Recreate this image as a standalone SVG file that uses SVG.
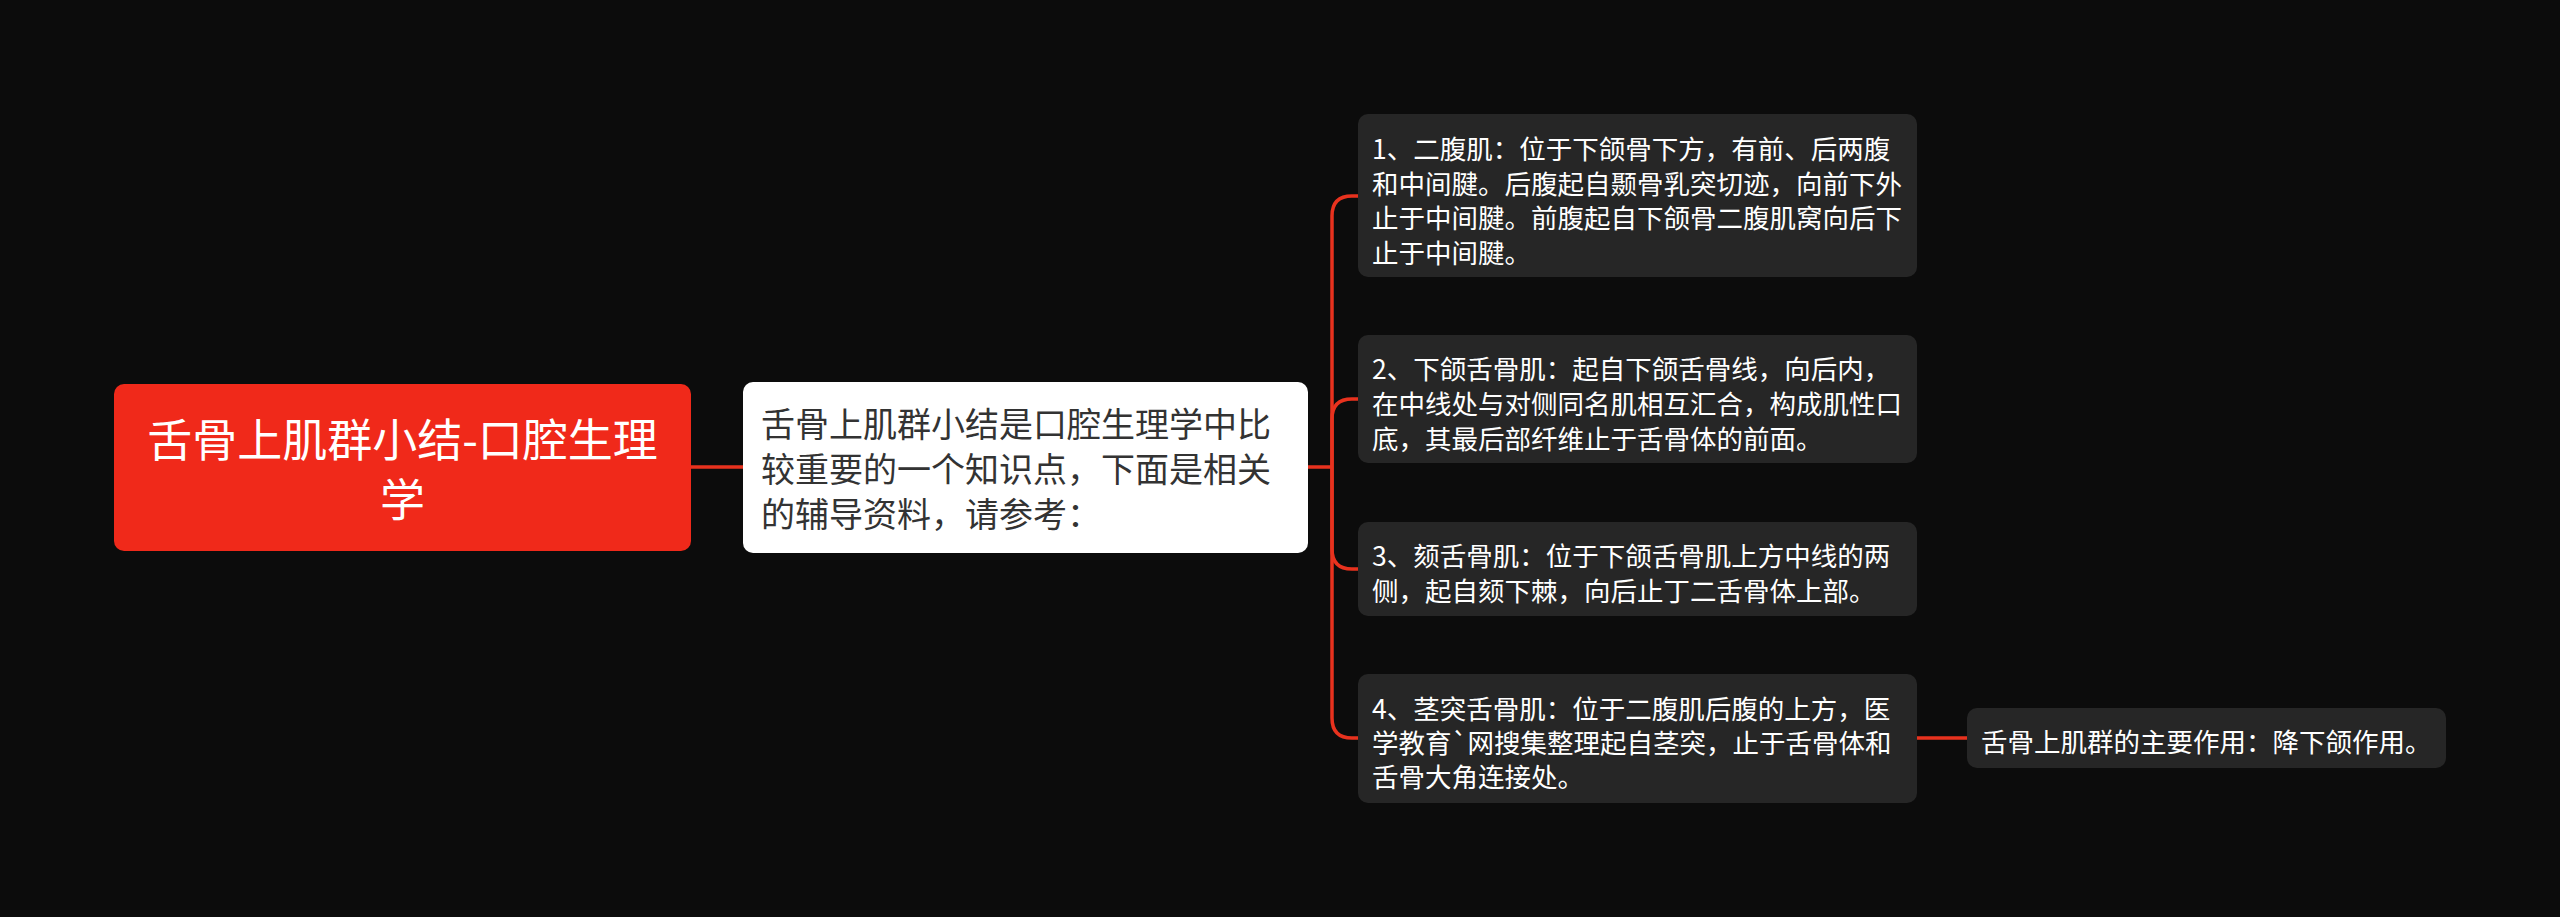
<svg xmlns="http://www.w3.org/2000/svg" width="2560" height="917" viewBox="0 0 2560 917">
<style>
text{font-family:"Noto Sans CJK SC","Noto Sans",sans-serif;dominant-baseline:central}
.rt{fill:#ffffff;font-size:45px;text-anchor:middle}
.mt{fill:#333333;font-size:34px}
.nt{fill:#ffffff;font-size:26.5px}
.card{fill:#262626}
.ln{fill:none;stroke:#e8321e;stroke-width:3.5}
</style>
<rect width="2560" height="917" fill="#0c0c0c"/>
<g id="connectors">
<path class="ln" d="M691,467 H743"/>
<path class="ln" d="M1308,467 H1332"/>
<path class="ln" d="M1332,467 V216 Q1332,196 1352,196 H1358"/>
<path class="ln" d="M1332,467 V419 Q1332,399 1352,399 H1358"/>
<path class="ln" d="M1332,467 V549 Q1332,569 1352,569 H1358"/>
<path class="ln" d="M1332,467 V718 Q1332,738 1352,738 H1358"/>
<path class="ln" d="M1917,738 H1967"/>
</g>
<g id="root">
<rect x="114" y="384" width="577" height="167" rx="10" fill="#f0291a"/>
<text class="rt"><tspan x="402.5" y="437">舌骨上肌群小结-口腔生理</tspan><tspan x="402.5" y="497">学</tspan></text>
</g>
<g id="mid">
<rect x="743" y="382" width="565" height="171" rx="10" fill="#ffffff"/>
<text class="mt"><tspan x="761" y="422">舌骨上肌群小结是口腔生理学中比</tspan><tspan x="761" y="467">较重要的一个知识点，下面是相关</tspan><tspan x="761" y="512">的辅导资料，请参考：</tspan></text>
</g>
<g id="n1">
<rect class="card" x="1358" y="114" width="559" height="163" rx="10"/>
<text class="nt"><tspan x="1372" y="147">1、二腹肌：位于下颌骨下方，有前、后两腹</tspan><tspan x="1372" y="181.5">和中间腱。后腹起自颞骨乳突切迹，向前下外</tspan><tspan x="1372" y="216">止于中间腱。前腹起自下颌骨二腹肌窝向后下</tspan><tspan x="1372" y="250.5">止于中间腱。</tspan></text>
</g>
<g id="n2">
<rect class="card" x="1358" y="335" width="559" height="128" rx="10"/>
<text class="nt"><tspan x="1372" y="367">2、下颌舌骨肌：起自下颌舌骨线，向后内，</tspan><tspan x="1372" y="402">在中线处与对侧同名肌相互汇合，构成肌性口</tspan><tspan x="1372" y="437">底，其最后部纤维止于舌骨体的前面。</tspan></text>
</g>
<g id="n3">
<rect class="card" x="1358" y="522" width="559" height="94" rx="10"/>
<text class="nt"><tspan x="1372" y="554">3、颏舌骨肌：位于下颌舌骨肌上方中线的两</tspan><tspan x="1372" y="589">侧，起自颏下棘，向后止丁二舌骨体上部。</tspan></text>
</g>
<g id="n4">
<rect class="card" x="1358" y="674" width="559" height="129" rx="10"/>
<text class="nt"><tspan x="1372" y="707">4、茎突舌骨肌：位于二腹肌后腹的上方，医</tspan><tspan x="1372" y="741">学教育`网搜集整理起自茎突，止于舌骨体和</tspan><tspan x="1372" y="775">舌骨大角连接处。</tspan></text>
</g>
<g id="leaf">
<rect class="card" x="1967" y="708" width="479" height="60" rx="10"/>
<text class="nt" x="1981" y="740">舌骨上肌群的主要作用：降下颌作用。</text>
</g>
</svg>
